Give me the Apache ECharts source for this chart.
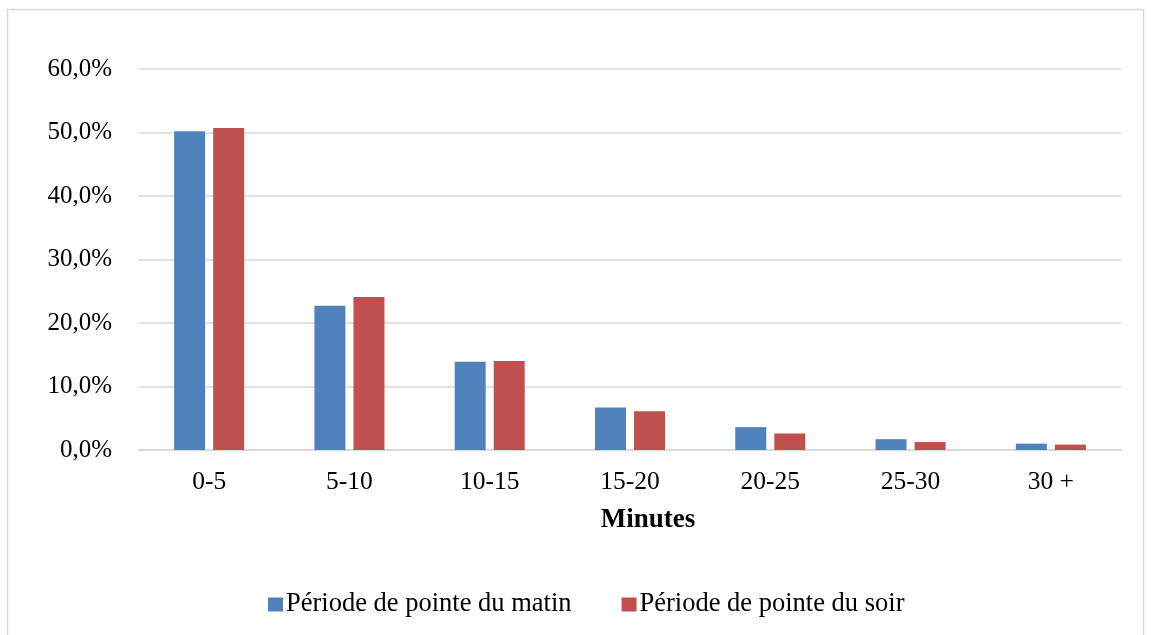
<!DOCTYPE html>
<html><head><meta charset="utf-8">
<script src="https://cdn.jsdelivr.net/npm/echarts@6/dist/echarts.min.js"></script>
<style>html,body{margin:0;padding:0;background:#fff}#c{width:1151px;height:635px}</style>
</head><body><div id="c"></div>
<script>
const categories = ['0-5','5-10','10-15','15-20','20-25','25-30','30 +'];
const matin = [50.2, 22.7, 13.9, 6.7, 3.6, 1.7, 1.0];
const soir = [50.7, 24.1, 14.0, 6.1, 2.6, 1.25, 0.85];
const seriesNames = ['Période de pointe du matin','Période de pointe du soir'];
const font = '"Liberation Serif","Times New Roman",serif';
const chart = echarts.init(document.getElementById('c'));
chart.setOption({
  animation:false,
  graphic:[{type:'rect',shape:{x:7.5,y:9.5,width:1136,height:640},style:{fill:'none',stroke:'#d9d9d9',lineWidth:1.5},silent:true}],
  grid:{left:139,right:30,top:69,bottom:185},
  legend:{top:586,left:263,itemWidth:15,itemHeight:14,itemGap:50,icon:'rect',
    textStyle:{fontFamily:font,fontSize:26.5,color:'#000',padding:[0,0,0,-2]},data:seriesNames},
  xAxis:{type:'category',data:categories,name:'Minutes',nameLocation:'middle',nameGap:57,
    nameTextStyle:{fontFamily:font,fontSize:27,fontWeight:'bold',color:'#000',padding:[0,0,0,36]},
    axisTick:{show:false},axisLine:{lineStyle:{color:'#d9d9d9',width:2}},
    axisLabel:{fontFamily:font,fontSize:25.5,color:'#000',margin:19}},
  yAxis:{type:'value',min:0,max:60,interval:10,
    axisLabel:{fontFamily:font,fontSize:25,color:'#000',margin:27,formatter:v=>v.toFixed(1).replace('.',',')+'%'},
    splitLine:{lineStyle:{color:'#d9d9d9',width:1.5}},axisLine:{show:false},axisTick:{show:false}},
  series:[
    {name:seriesNames[0],type:'bar',data:matin,barWidth:31,barGap:'26%',itemStyle:{color:'#4F81BD'}},
    {name:seriesNames[1],type:'bar',data:soir,barWidth:31,itemStyle:{color:'#C0504D'}}
  ]
});
</script></body></html>
